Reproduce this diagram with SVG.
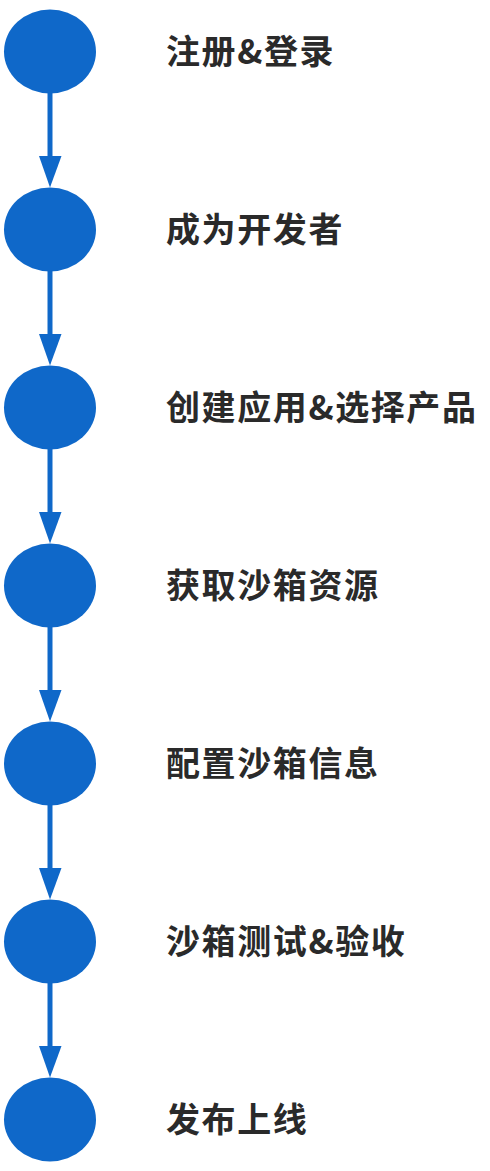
<svg xmlns="http://www.w3.org/2000/svg" width="490" height="1171" viewBox="0 0 490 1171">
<style>
.n{fill:#0F68C9}
.t{font-family:"Noto Sans CJK SC","Noto Sans",sans-serif;font-weight:bold;font-size:34px;fill:#2A2A2A;letter-spacing:1.6px}
.e{stroke:#0F68C9;stroke-width:5;fill:none}
.a{fill:#0F68C9}
</style>
<rect width="490" height="1171" fill="#fff"/>
<g id="connectors">
<line class="e" x1="50" y1="93" x2="50" y2="158"/>
<polygon class="a" points="39,156 61.5,156 50,187.5"/>
<line class="e" x1="50" y1="271" x2="50" y2="336"/>
<polygon class="a" points="39,334 61.5,334 50,365.5"/>
<line class="e" x1="50" y1="449" x2="50" y2="514"/>
<polygon class="a" points="39,512 61.5,512 50,543.5"/>
<line class="e" x1="50" y1="627" x2="50" y2="692"/>
<polygon class="a" points="39,690 61.5,690 50,721.5"/>
<line class="e" x1="50" y1="805" x2="50" y2="870"/>
<polygon class="a" points="39,868 61.5,868 50,899.5"/>
<line class="e" x1="50" y1="983" x2="50" y2="1048"/>
<polygon class="a" points="39,1046 61.5,1046 50,1077.5"/>
</g>
<g id="n1"><ellipse class="n" cx="50" cy="51.5" rx="46" ry="42"/><text class="t" x="166" y="64">注册&amp;登录</text></g>
<g id="n2"><ellipse class="n" cx="50" cy="229.5" rx="46" ry="42"/><text class="t" x="166" y="242">成为开发者</text></g>
<g id="n3"><ellipse class="n" cx="50" cy="407.5" rx="46" ry="42"/><text class="t" x="166" y="420">创建应用&amp;选择产品</text></g>
<g id="n4"><ellipse class="n" cx="50" cy="585.5" rx="46" ry="42"/><text class="t" x="166" y="598">获取沙箱资源</text></g>
<g id="n5"><ellipse class="n" cx="50" cy="763.5" rx="46" ry="42"/><text class="t" x="166" y="776">配置沙箱信息</text></g>
<g id="n6"><ellipse class="n" cx="50" cy="941.5" rx="46" ry="42"/><text class="t" x="166" y="954">沙箱测试&amp;验收</text></g>
<g id="n7"><ellipse class="n" cx="50" cy="1119.5" rx="46" ry="42"/><text class="t" x="166" y="1132">发布上线</text></g>
</svg>
